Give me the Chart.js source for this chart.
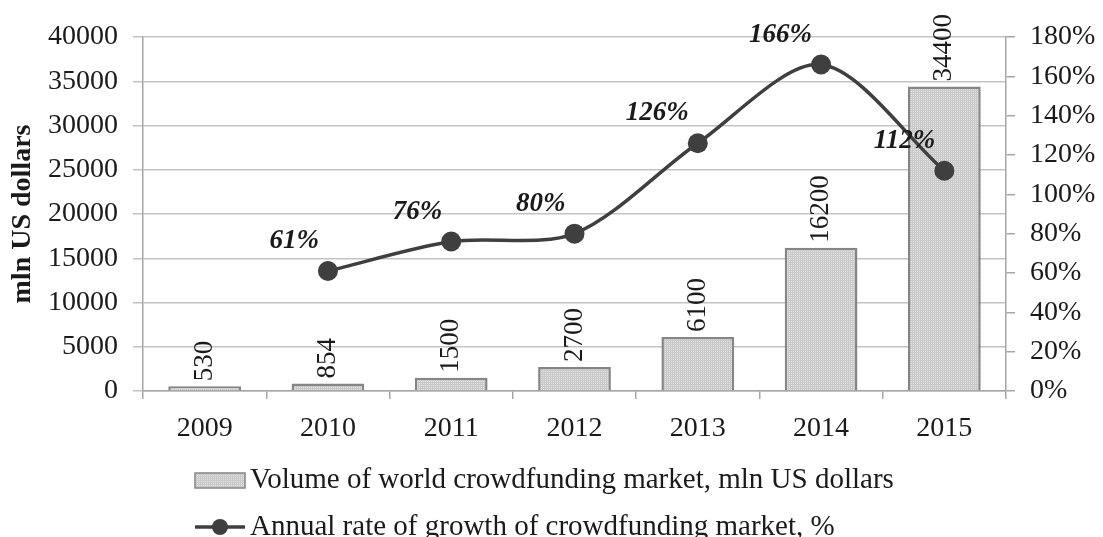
<!DOCTYPE html>
<html>
<head>
<meta charset="utf-8">
<script src="https://cdn.jsdelivr.net/npm/chart.js@4.4.0/dist/chart.umd.min.js"></script>
<style>
  html, body { margin: 0; padding: 0; background: #fff; }
  #wrap { width: 1103px; height: 537px; position: relative; }
</style>
</head>
<body>
<div id="wrap"><canvas id="crowdfundingChart"></canvas></div>
<script>
// Dati
const years = ['2009', '2010', '2011', '2012', '2013', '2014', '2015'];
const marketVolume = [530, 854, 1500, 2700, 6100, 16200, 34400];
const growthRate = [null, 61, 76, 80, 126, 166, 112];
const seriesLabels = [
    'Volume of world crowdfunding market, mln US dollars',
    'Annual rate of growth of crowdfunding market, %'
];
const volumeAxisTitle = 'mln US dollars';
const volumeMax = 40000;
const volumeStep = 5000;
const rateMax = 180;
const rateStep = 20;

const SERIF = '"Liberation Serif", "Times New Roman", serif';
const LINE_COLOR = '#3f3f3f';
const BAR_BORDER = '#858585';

// Riempimento puntinato delle barre
function makeDotPattern() {
    const c = document.createElement('canvas');
    c.width = 4;
    c.height = 4;
    const g = c.getContext('2d');
    g.fillStyle = '#c9c9c9';
    g.fillRect(0, 0, 4, 4);
    g.fillStyle = '#e3e3e3';
    g.fillRect(1, 1, 1, 1);
    g.fillRect(3, 1, 1, 1);
    g.fillRect(1, 3, 1, 1);
    g.fillRect(3, 3, 1, 1);
    return g.createPattern(c, 'repeat');
}
const dotPattern = makeDotPattern();

// Etichette verticali sopra le barre
const barValueLabels = {
    id: 'barValueLabels',
    afterDatasetsDraw(chart) {
        const c = chart.ctx;
        const meta = chart.getDatasetMeta(0);
        c.save();
        c.font = '27px ' + SERIF;
        c.fillStyle = '#1a1a1a';
        c.textAlign = 'left';
        c.textBaseline = 'middle';
        meta.data.forEach((bar, i) => {
            c.save();
            c.translate(bar.x, bar.y - 5);
            c.rotate(-Math.PI / 2);
            c.fillText(String(marketVolume[i]), 0, 0);
            c.restore();
        });
        c.restore();
    }
};

// Etichette percentuali della linea
const rateLabels = {
    id: 'rateLabels',
    afterDatasetsDraw(chart) {
        const c = chart.ctx;
        const meta = chart.getDatasetMeta(1);
        c.save();
        c.font = 'italic bold 27px ' + SERIF;
        c.fillStyle = '#1a1a1a';
        c.textAlign = 'right';
        c.textBaseline = 'middle';
        meta.data.forEach((pt, i) => {
            if (growthRate[i] === null) return;
            c.fillText(growthRate[i] + '%', pt.x - 9, pt.y - 30);
        });
        c.restore();
    }
};

// Legenda in basso, allineata a sinistra
const bottomLegend = {
    id: 'bottomLegend',
    afterDraw(chart) {
        const c = chart.ctx;
        const area = chart.chartArea;
        const x0 = area.left + 52;
        const rows = [area.bottom + 89, area.bottom + 136];
        c.save();
        // barra
        c.fillStyle = dotPattern;
        c.fillRect(x0, rows[0] - 7, 50, 15);
        c.strokeStyle = BAR_BORDER;
        c.lineWidth = 1.5;
        c.strokeRect(x0, rows[0] - 7, 50, 15);
        // linea con punto
        c.strokeStyle = LINE_COLOR;
        c.lineWidth = 3.5;
        c.beginPath();
        c.moveTo(x0, rows[1]);
        c.lineTo(x0 + 50, rows[1]);
        c.stroke();
        c.fillStyle = LINE_COLOR;
        c.beginPath();
        c.arc(x0 + 25, rows[1], 8, 0, Math.PI * 2);
        c.fill();
        // testi
        c.font = '29px ' + SERIF;
        c.fillStyle = '#1a1a1a';
        c.textAlign = 'left';
        c.textBaseline = 'middle';
        c.fillText(chart.data.datasets[0].label, x0 + 55, rows[0]);
        c.fillText(chart.data.datasets[1].label, x0 + 55, rows[1]);
        c.restore();
    }
};

function initCrowdfundingChart() {
    const ctx = document.getElementById('crowdfundingChart');
    if (!ctx) return;

    new Chart(ctx, {
        type: 'bar',
        data: {
            labels: years,
            datasets: [{
                label: seriesLabels[0],
                data: marketVolume,
                backgroundColor: dotPattern,
                borderColor: BAR_BORDER,
                borderWidth: 2.5,
                barPercentage: 0.59,
                categoryPercentage: 1,
                yAxisID: 'y',
                order: 1
            }, {
                label: seriesLabels[1],
                type: 'line',
                data: growthRate,
                borderColor: LINE_COLOR,
                borderWidth: 3.5,
                backgroundColor: LINE_COLOR,
                pointRadius: 10,
                pointBackgroundColor: LINE_COLOR,
                pointBorderWidth: 0,
                tension: 0.3,
                yAxisID: 'y1',
                order: 0
            }]
        },
        options: {
            responsive: true,
            maintainAspectRatio: false,
            animation: false,
            layout: { padding: { top: 37, left: 0, right: 0, bottom: 0 } },
            plugins: {
                legend: { display: false },
                tooltip: { enabled: false }
            },
            scales: {
                x: {
                    offset: true,
                    grid: {
                        display: true,
                        drawOnChartArea: false,
                        offset: true,
                        tickLength: 8,
                        color: '#a6a6a6',
                        lineWidth: 1.5
                    },
                    border: { display: true, color: '#a6a6a6', width: 1.5 },
                    ticks: {
                        color: '#1a1a1a',
                        padding: 13,
                        font: { family: SERIF, size: 28 }
                    },
                    afterFit(scale) { scale.height = 146; }
                },
                y: {
                    position: 'left',
                    min: 0,
                    max: volumeMax,
                    grid: {
                        color: '#c3c3c3',
                        lineWidth: 1.5,
                        tickLength: 10
                    },
                    border: { display: true, color: '#a6a6a6', width: 1.5 },
                    ticks: {
                        stepSize: volumeStep,
                        color: '#1a1a1a',
                        padding: 15,
                        font: { family: SERIF, size: 28 },
                        callback: value => String(value)
                    },
                    title: {
                        display: true,
                        text: volumeAxisTitle,
                        color: '#1a1a1a',
                        padding: { top: 6, bottom: 0 },
                        font: { family: SERIF, size: 28, weight: 'bold' }
                    },
                    afterFit(scale) { scale.width = 143; }
                },
                y1: {
                    position: 'right',
                    min: 0,
                    max: rateMax,
                    grid: {
                        drawOnChartArea: false,
                        color: '#a6a6a6',
                        lineWidth: 1.5,
                        tickLength: 9
                    },
                    border: { display: true, color: '#a6a6a6', width: 1.5 },
                    ticks: {
                        stepSize: rateStep,
                        color: '#1a1a1a',
                        padding: 15,
                        font: { family: SERIF, size: 28 },
                        callback: value => value + '%'
                    },
                    afterFit(scale) { scale.width = 97; }
                }
            }
        },
        plugins: [barValueLabels, rateLabels, bottomLegend]
    });
}

initCrowdfundingChart();
</script>
</body>
</html>
